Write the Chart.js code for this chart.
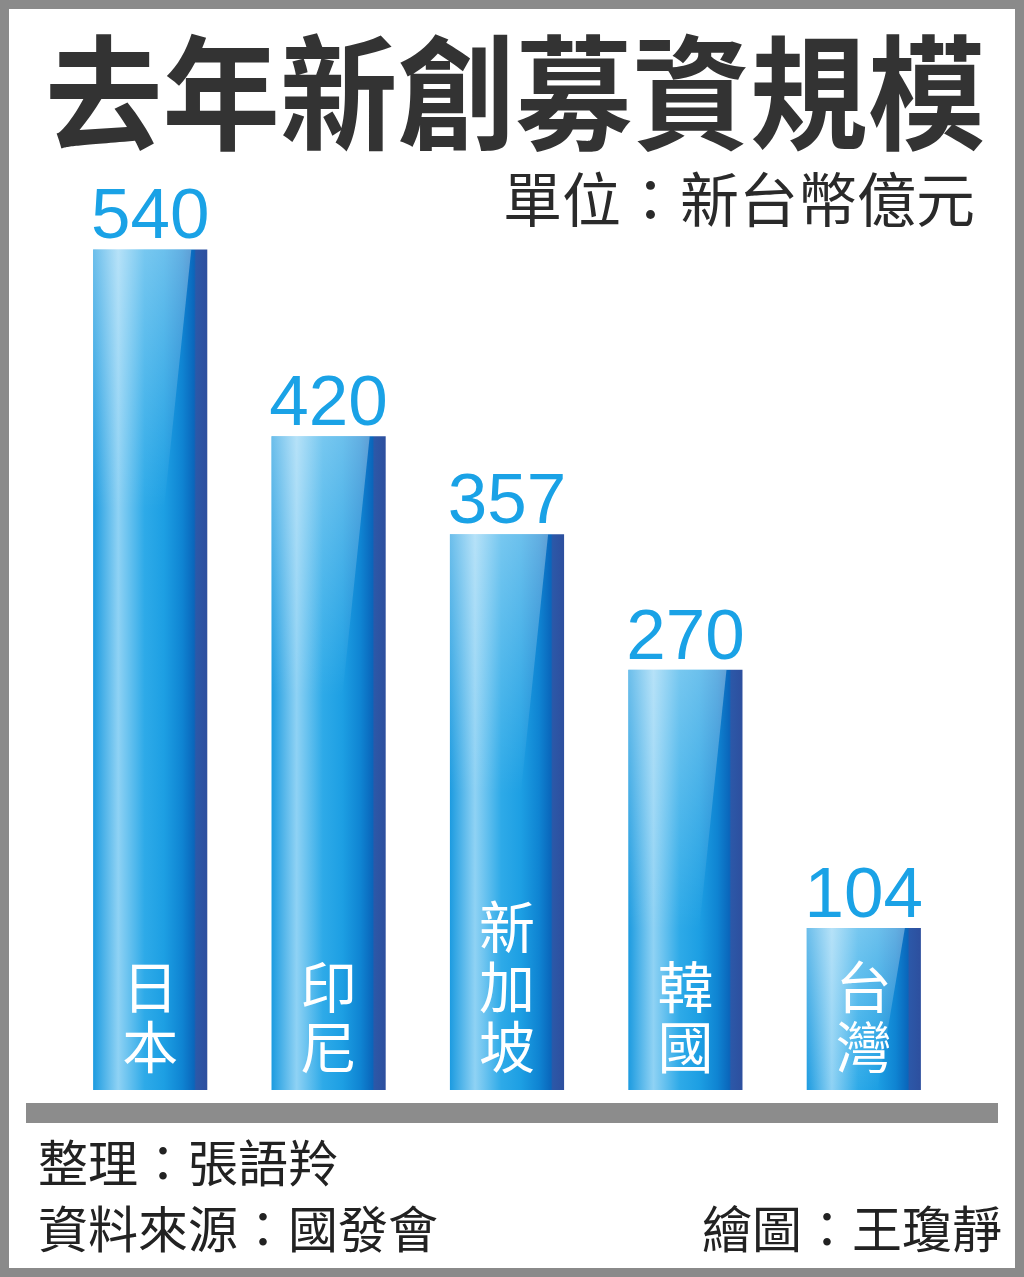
<!DOCTYPE html>
<html lang="zh-Hant">
<head>
  <meta charset="UTF-8">
  <title>去年新創募資規模</title>
  <script src="https://cdn.jsdelivr.net/npm/chart.js"></script>
  <style>
    html, body { margin: 0; padding: 0; background: #fff; }
    #wrap { width: 1024px; height: 1277px; }
  </style>
</head>
<body>
<div id="wrap"><canvas id="startupChart" width="1024" height="1277"></canvas></div>

<script>
  // data
  const countries = ['日本', '印尼', '新加坡', '韓國', '台灣'];
  const amounts = [540, 420, 357, 270, 104];   // 新台幣億元
  const yMax = 600;

  const cjk = '"Noto Sans CJK TC", "Noto Sans CJK SC", sans-serif';
  const BAR_PCT = 0.64;

  // gradient for one bar, built from where the x scale puts it
  function barFill(ctx) {
    const chart = ctx.chart;
    const xs = chart.scales.x;
    if (!xs || !chart.chartArea) return '#1ea3e6';
    const cx = xs.getPixelForValue(ctx.dataIndex);
    const w = xs.width / countries.length * BAR_PCT;
    const g = chart.ctx.createLinearGradient(cx - w / 2, 0, cx + w / 2, 0);
    g.addColorStop(0, '#1c9be0');
    g.addColorStop(0.22, '#8fd2f4');
    g.addColorStop(0.45, '#2eaae8');
    g.addColorStop(0.62, '#1d9fe3');
    g.addColorStop(0.78, '#0f84d2');
    g.addColorStop(0.885, '#0a66bb');
    g.addColorStop(0.9, '#2c58a8');
    g.addColorStop(1, '#2d4f9e');
    return g;
  }

  // frame, title, unit, base strip and footer
  const decor = {
    id: 'decor',
    beforeDraw(chart) {
      const c = chart.ctx;
      c.save();
      c.fillStyle = '#ffffff';
      c.fillRect(0, 0, 1024, 1277);
      c.strokeStyle = '#8a8a8a';
      c.lineWidth = 9;
      c.strokeRect(4.5, 4.5, 1015, 1268);

      // title, squeezed a little to fit
      c.fillStyle = '#333333';
      c.font = '700 124px ' + cjk;
      c.textBaseline = 'alphabetic';
      const title = '去年新創募資規模';
      const tw = c.measureText(title).width;
      c.save();
      c.translate(45, 140);
      c.scale(940 / tw, 1);
      c.fillText(title, 0, 0);
      c.restore();

      c.fillStyle = '#2a2a2a';
      c.font = '400 59px ' + cjk;
      c.textAlign = 'right';
      c.fillText('單位：新台幣億元', 975, 222);
      c.restore();
    },
    afterDraw(chart) {
      const c = chart.ctx;
      c.save();
      c.fillStyle = '#8c8c8c';
      c.fillRect(26, 1103, 972, 20);

      c.fillStyle = '#222222';
      c.font = '400 50px ' + cjk;
      c.textBaseline = 'alphabetic';
      c.textAlign = 'left';
      c.fillText('整理：張語羚', 38, 1182);
      c.fillText('資料來源：國發會', 38, 1248);
      c.textAlign = 'right';
      c.fillText('繪圖：王瓊靜', 1002, 1248);
      c.restore();
    }
  };

  // gloss, value labels above bars, vertical names inside bars
  const barText = {
    id: 'barText',
    afterDatasetsDraw(chart) {
      const c = chart.ctx;
      const meta = chart.getDatasetMeta(0);
      meta.data.forEach((bar, i) => {
        const left = bar.x - bar.width / 2;
        const w = bar.width;
        const top = bar.y;
        const h = bar.base - bar.y;

        // top-left sheen with a slanted edge
        c.save();
        c.beginPath();
        c.rect(left, top, w, h);
        c.clip();
        const sh = Math.min(260, h);
        const sg = c.createLinearGradient(0, top, 0, top + sh);
        sg.addColorStop(0, 'rgba(255,255,255,0.35)');
        sg.addColorStop(1, 'rgba(255,255,255,0)');
        c.fillStyle = sg;
        c.beginPath();
        c.moveTo(left, top);
        c.lineTo(left + w * 0.86, top);
        c.lineTo(left + w * 0.62, top + sh);
        c.lineTo(left, top + sh);
        c.closePath();
        c.fill();
        c.restore();

        // value
        c.save();
        c.fillStyle = '#1aa2e6';
        c.font = '400 71px "Liberation Sans", Arial, sans-serif';
        c.textAlign = 'center';
        c.textBaseline = 'alphabetic';
        c.fillText(String(amounts[i]), bar.x, top - 11);

        // name, one character per line, from the bottom up
        c.fillStyle = '#ffffff';
        c.font = '400 56px ' + cjk;
        const chars = Array.from(countries[i]);
        const pitch = 60;
        chars.forEach((ch, k) => {
          const fromBottom = chars.length - 1 - k;
          c.fillText(ch, bar.x, bar.base - 22 - fromBottom * pitch);
        });
        c.restore();
      });
    }
  };

  new Chart(document.getElementById('startupChart'), {
    type: 'bar',
    data: {
      labels: countries,
      datasets: [{
        label: '募資規模',
        data: amounts,
        backgroundColor: barFill,
        borderWidth: 0,
        categoryPercentage: 1,
        barPercentage: BAR_PCT
      }]
    },
    options: {
      responsive: false,
      animation: false,
      devicePixelRatio: 1,
      layout: { padding: { left: 61, right: 71, top: 156, bottom: 187 } },
      scales: {
        x: { display: false },
        y: { display: false, min: 0, max: yMax }
      },
      plugins: {
        legend: { display: false },
        tooltip: { enabled: false },
        title: { display: false }
      }
    },
    plugins: [decor, barText]
  });
</script>
</body>
</html>
